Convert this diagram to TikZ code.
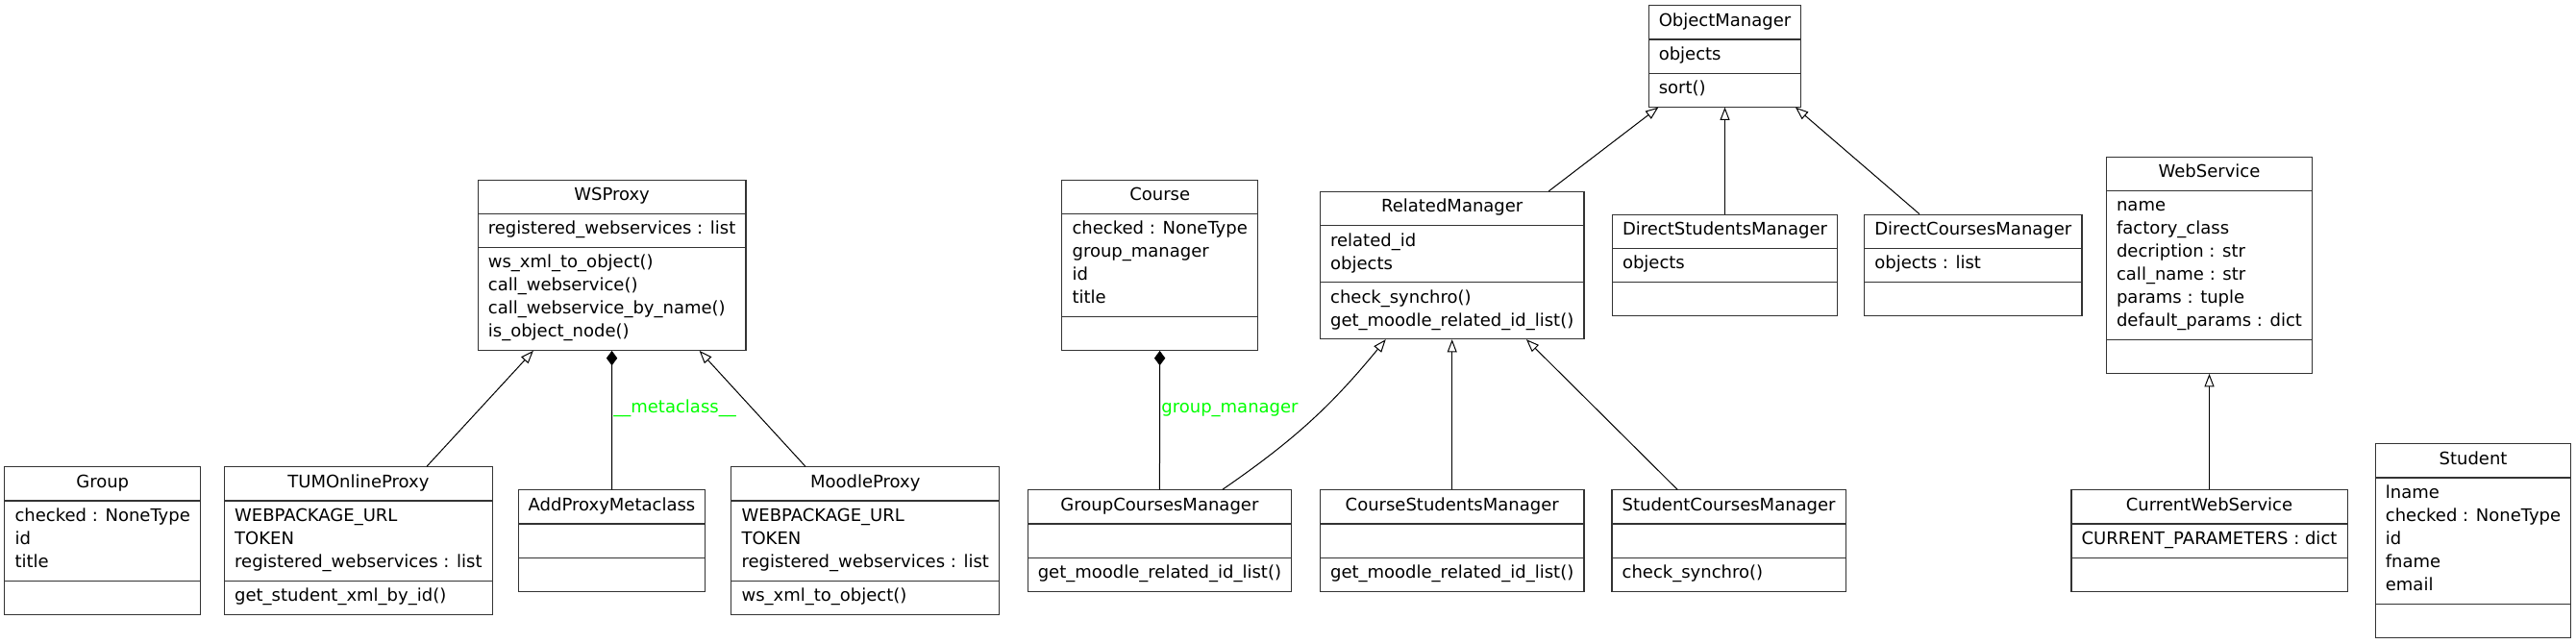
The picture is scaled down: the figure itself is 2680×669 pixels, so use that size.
\documentclass[tikz,border=0pt]{standalone}
\usepackage{fontspec}
\setmainfont{DejaVu Sans}
\usepackage{array}
\usetikzlibrary{shapes.multipart,arrows.meta}

\newcommand{\umlstrut}{\rule[-6pt]{0pt}{18pt}}
\newcommand{\fields}[1]{{\renewcommand{\arraystretch}{0}%
  \begin{tabular}{@{}>{\umlstrut}l@{}}#1\end{tabular}}}

\tikzset{
  umlclass/.style={
    rectangle split, rectangle split parts=3,
    rectangle split part align={center,left,left},
    rectangle split empty part height=12pt,
    rectangle split empty part depth=6pt,
    draw=black!80, line width=0.8pt,
    inner xsep=8pt, inner ysep=3.75pt,
    font=\fontsize{13.5}{18}\selectfont
  },
  inherit/.style={-{Triangle[open,length=10pt,width=7.5pt]}, line width=0.75pt},
  compose/.style={-{Diamond[length=11.5pt,width=8.5pt]}, line width=0.75pt},
  rolelabel/.style={text=green, font=\fontsize{13.5}{18}\selectfont,
    anchor=base west, inner sep=1pt}
}

\begin{document}
\begin{tikzpicture}[x=0.75pt,y=-0.75pt]
  \useasboundingbox (0,0) rectangle (2680,669);

  % Proxies
  \node[umlclass] (wsproxy) at (636.6,275.8) {\umlstrut WSProxy%
    \nodepart{second}\fields{registered\_webservices : list}%
    \nodepart{third}\fields{ws\_xml\_to\_object()\\call\_webservice()\\call\_webservice\_by\_name()\\is\_object\_node()}};
  \node[umlclass] (group) at (106.7,562.5) {\umlstrut Group%
    \nodepart{second}\fields{checked : NoneType\\id\\title}%
    \nodepart{third}\umlstrut};
  \node[umlclass] (tum) at (372.9,562.5) {\umlstrut TUMOnlineProxy%
    \nodepart{second}\fields{WEBPACKAGE\_URL\\TOKEN\\registered\_webservices : list}%
    \nodepart{third}\fields{get\_student\_xml\_by\_id()}};
  \node[umlclass] (addproxy) at (636.5,562.5) {\umlstrut AddProxyMetaclass%
    \nodepart{second}\umlstrut
    \nodepart{third}\umlstrut};
  \node[umlclass] (moodle) at (900.3,562.5) {\umlstrut MoodleProxy%
    \nodepart{second}\fields{WEBPACKAGE\_URL\\TOKEN\\registered\_webservices : list}%
    \nodepart{third}\fields{ws\_xml\_to\_object()}};

  \draw[inherit] (tum) -- (wsproxy);
  \draw[inherit] ([xshift=-46.7pt]moodle.north) -- ([xshift=68.3pt]wsproxy.south);
  \draw[compose] (addproxy) -- node[rolelabel,pos=0.553] {\_\_metaclass\_\_} (wsproxy);

  % Managers
  \node[umlclass] (course) at (1206.7,275.8) {\umlstrut Course%
    \nodepart{second}\fields{checked : NoneType\\group\_manager\\id\\title}%
    \nodepart{third}\umlstrut};
  \node[umlclass] (objmgr) at (1794.5,58.5) {\umlstrut ObjectManager%
    \nodepart{second}\fields{objects}%
    \nodepart{third}\fields{sort()}};
  \node[umlclass] (related) at (1510.7,276) {\umlstrut RelatedManager%
    \nodepart{second}\fields{related\_id\\objects}%
    \nodepart{third}\fields{check\_synchro()\\get\_moodle\_related\_id\_list()}};
  \node[umlclass] (directsm) at (1794.5,275.8) {\umlstrut DirectStudentsManager%
    \nodepart{second}\fields{objects}%
    \nodepart{third}\umlstrut};
  \node[umlclass] (directcm) at (2052.8,275.8) {\umlstrut DirectCoursesManager%
    \nodepart{second}\fields{objects : list}%
    \nodepart{third}\umlstrut};
  \node[umlclass] (groupcm) at (1206.4,562.5) {\umlstrut GroupCoursesManager%
    \nodepart{second}\umlstrut
    \nodepart{third}\fields{get\_moodle\_related\_id\_list()}};
  \node[umlclass] (coursesm) at (1510.7,562.5) {\umlstrut CourseStudentsManager%
    \nodepart{second}\umlstrut
    \nodepart{third}\fields{get\_moodle\_related\_id\_list()}};
  \node[umlclass] (studentcm) at (1798.6,562.5) {\umlstrut StudentCoursesManager%
    \nodepart{second}\umlstrut
    \nodepart{third}\fields{check\_synchro()}};

  \draw[inherit] (related) -- (objmgr);
  \draw[inherit] (directsm) -- (objmgr);
  \draw[inherit] ([xshift=-41.9pt]directcm.north) -- ([xshift=55.1pt]objmgr.south);
  \draw[compose] (groupcm) -- node[rolelabel,pos=0.553] {group\_manager} (course);
  \draw[inherit] ([xshift=49pt]groupcm.north) to[bend right=8] ([xshift=-51.75pt]related.south);
  \draw[inherit] (coursesm) -- (related);
  \draw[inherit] (studentcm) -- (related);

  % Web services
  \node[umlclass] (webservice) at (2298.5,275.8) {\umlstrut WebService%
    \nodepart{second}\fields{name\\factory\_class\\decription : str\\call\_name : str\\params : tuple\\default\_params : dict}%
    \nodepart{third}\umlstrut};
  \node[umlclass] (currentws) at (2298.5,562.5) {\umlstrut CurrentWebService%
    \nodepart{second}\fields{CURRENT\_PARAMETERS : dict}%
    \nodepart{third}\umlstrut};
  \node[umlclass] (student) at (2573,562.5) {\umlstrut Student%
    \nodepart{second}\fields{lname\\checked : NoneType\\id\\fname\\email}%
    \nodepart{third}\umlstrut};

  \draw[inherit] (currentws) -- (webservice);
\end{tikzpicture}
\end{document}
